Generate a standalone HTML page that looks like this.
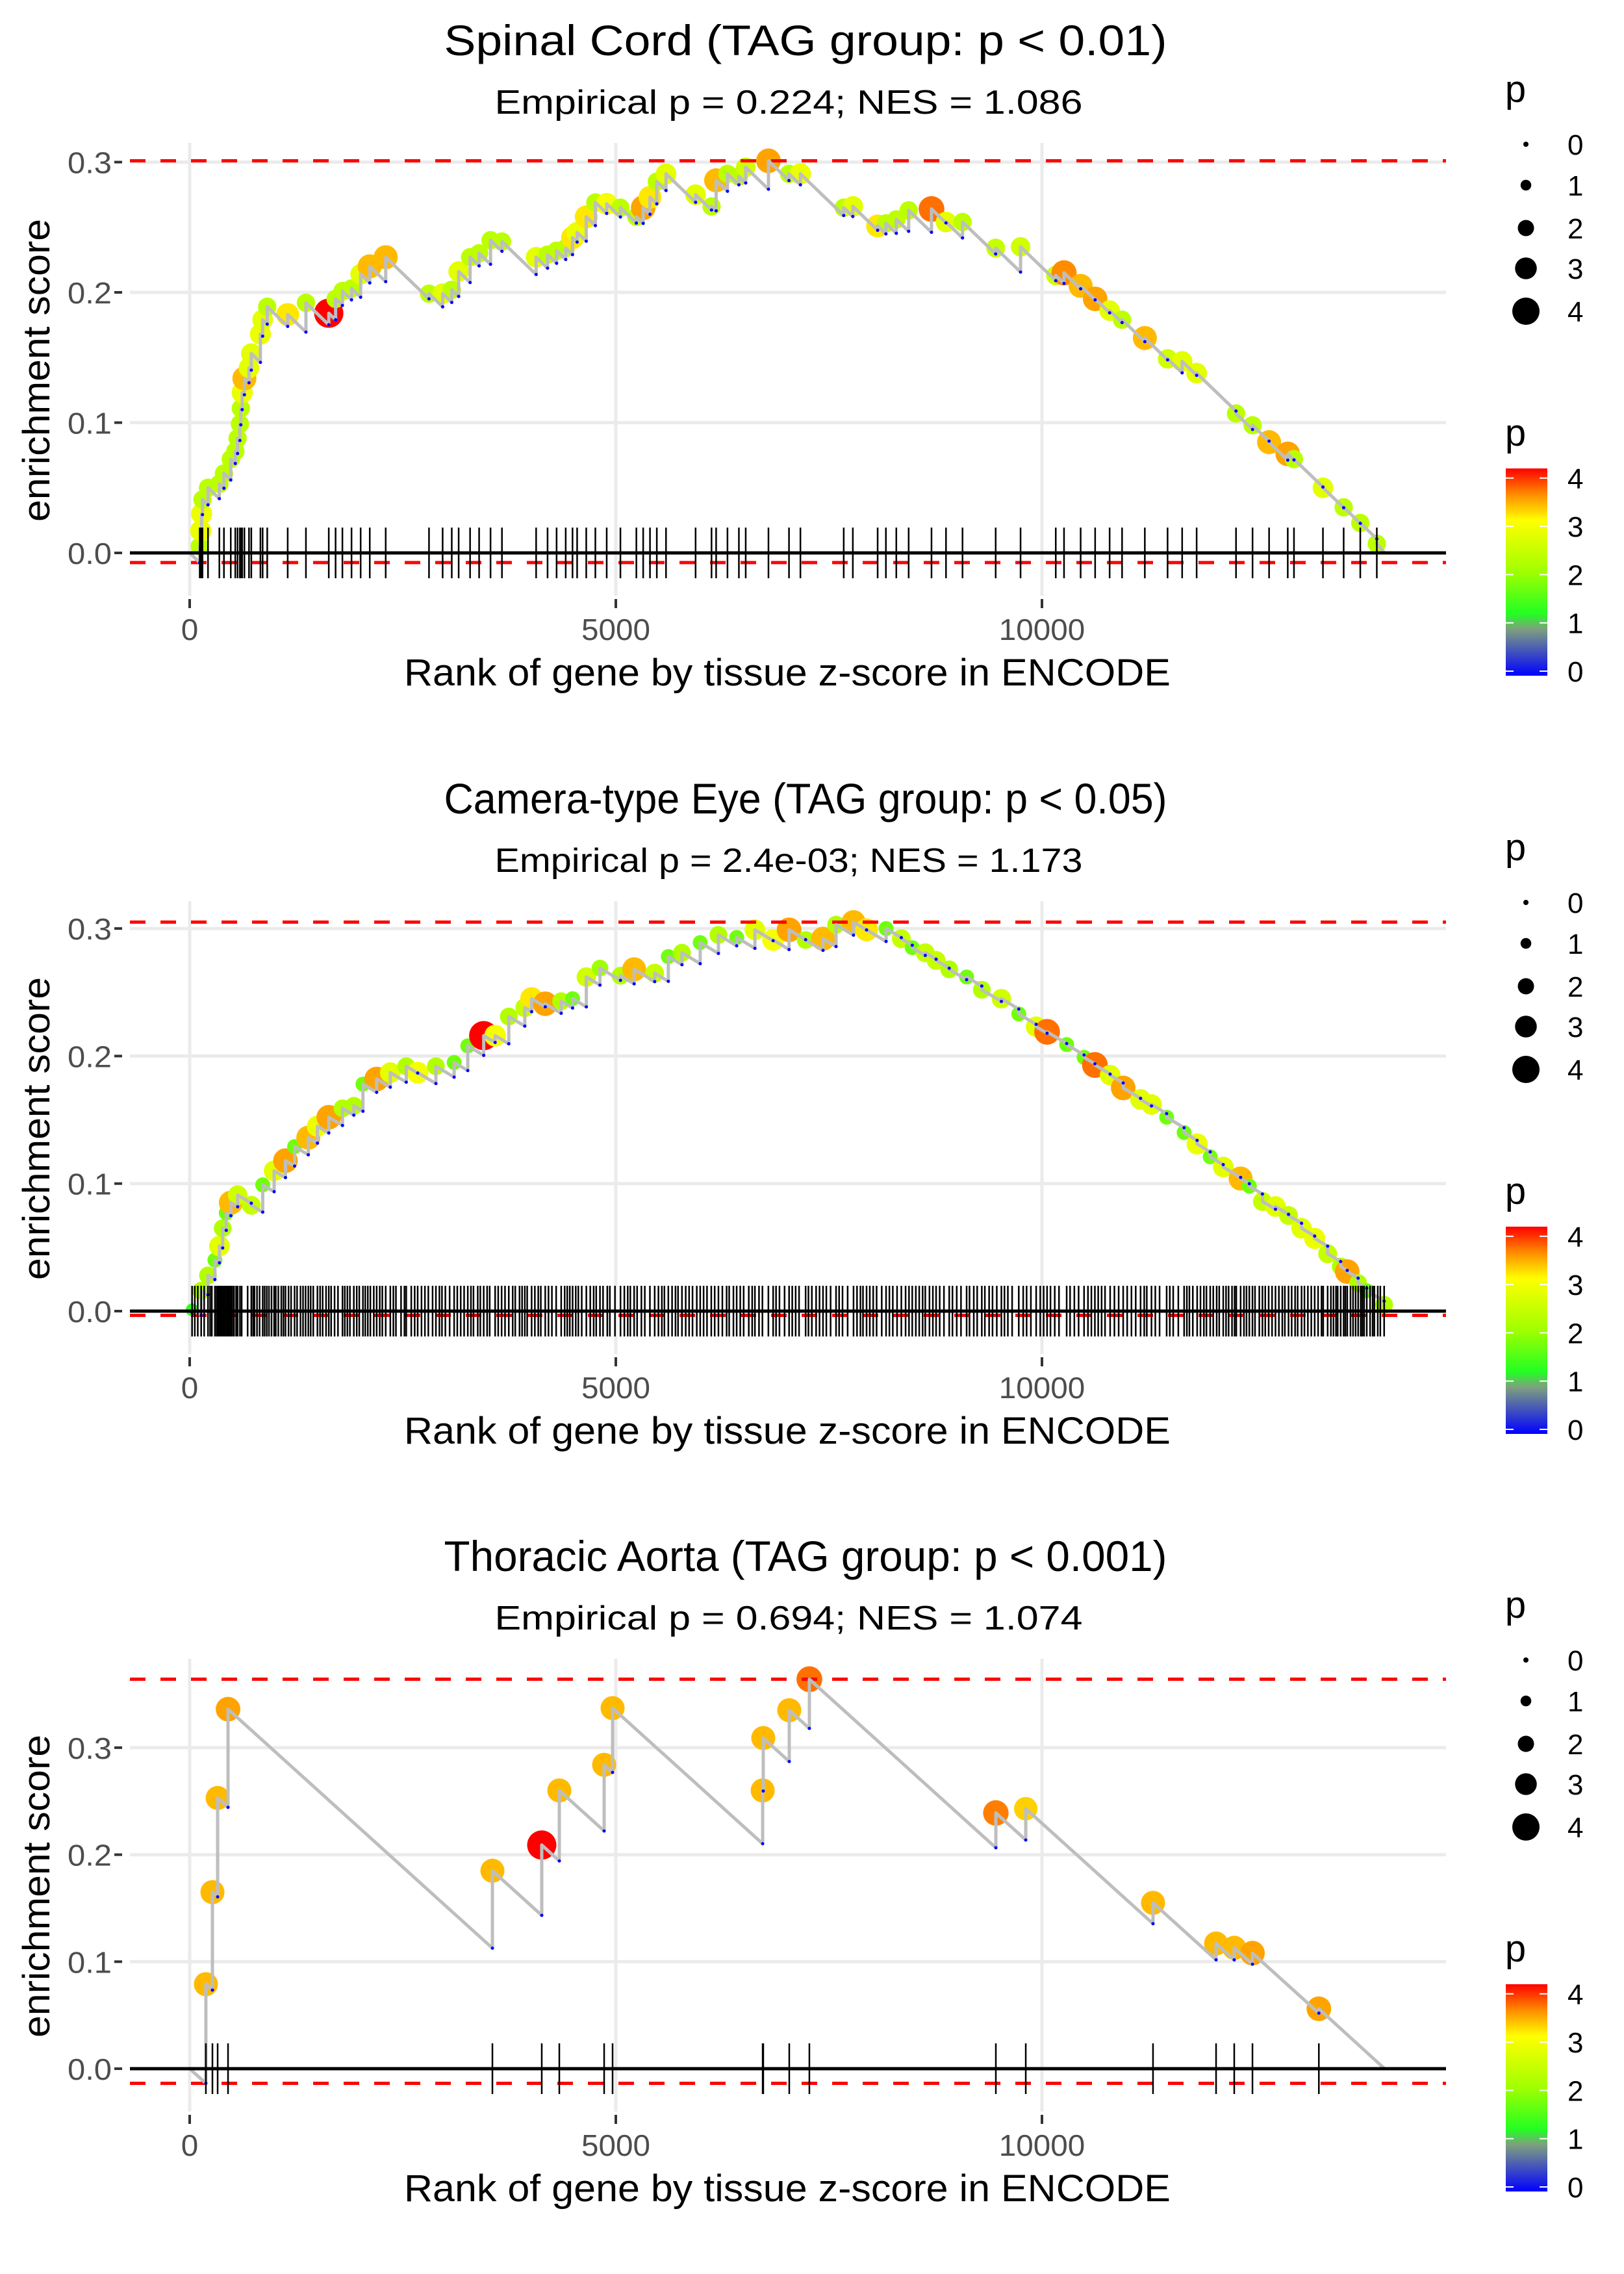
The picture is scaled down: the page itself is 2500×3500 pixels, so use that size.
<!DOCTYPE html>
<html><head><meta charset="utf-8"><style>
html,body{margin:0;padding:0;background:#fff;}
svg{display:block;font-family:"Liberation Sans",sans-serif;}
</style></head><body>
<svg id="fig" width="2500" height="3500" viewBox="0 0 2500 3500" xmlns="http://www.w3.org/2000/svg">
<defs>
<linearGradient id="pgrad" x1="0" y1="1" x2="0" y2="0">
<stop offset="0" stop-color="#0000ff"/><stop offset="0.225" stop-color="#7f9f7f"/><stop offset="0.3" stop-color="#22ff22"/><stop offset="0.5" stop-color="#a0ff00"/><stop offset="0.75" stop-color="#ffff00"/><stop offset="0.875" stop-color="#ff8c00"/><stop offset="1" stop-color="#ff0000"/>
</linearGradient>
</defs>
</svg>
<script>
// ---------- data ----------
const N = 14020;
// Panel 1 : Spinal Cord
const hitRank1 = [118,129,140,150,215,348,402,482,535,562,589,600,616,642,696,723,830,856,910,1150,1364,1632,1712,1792,1899,2006,2113,2300,2808,2968,3075,3156,3290,3396,3530,3664,4065,4199,4305,4412,4492,4546,4653,4760,4893,5054,5241,5321,5401,5481,5589,5936,6123,6177,6310,6444,6524,6791,7032,7166,7674,7781,8072,8169,8291,8436,8704,8874,9068,9457,9749,10162,10259,10454,10624,10794,10940,11207,11474,11645,11815,12277,12471,12665,12884,12957,13297,13540,13735,13929];
const hitES1 = [0.005,0.017,0.030,0.041,0.050,0.053,0.061,0.072,0.078,0.088,0.099,0.111,0.123,0.134,0.142,0.153,0.168,0.179,0.189,0.183,0.192,0.184,0.195,0.201,0.203,0.214,0.220,0.227,0.199,0.199,0.202,0.216,0.227,0.230,0.240,0.239,0.227,0.229,0.232,0.234,0.242,0.246,0.258,0.269,0.268,0.265,0.258,0.265,0.273,0.285,0.291,0.275,0.266,0.286,0.291,0.289,0.296,0.301,0.291,0.291,0.265,0.266,0.251,0.253,0.256,0.263,0.264,0.254,0.254,0.234,0.235,0.213,0.215,0.205,0.195,0.186,0.179,0.165,0.149,0.147,0.138,0.107,0.098,0.085,0.076,0.072,0.050,0.035,0.023,0.007];
const hitP1 = [2.3,2.8,2.8,2.3,2.3,2.3,2.3,2.3,2.3,2.3,2.3,2.3,2.8,3.3,2.7,2.7,2.8,2.7,2.3,3.1,2.3,4.2,2.3,2.3,2.3,2.7,3.3,3.3,2.3,2.7,2.3,2.7,2.3,2.3,2.3,2.3,2.7,2.3,2.3,2.3,3.1,2.8,3.1,2.3,2.9,2.3,2.3,3.4,3.1,2.3,2.7,2.7,2.3,3.3,2.3,2.3,2.5,3.4,2.3,2.8,2.3,2.7,3.1,2.3,2.3,2.3,3.6,2.7,2.3,2.4,2.5,2.5,3.5,3.3,3.4,2.7,2.3,3.3,2.5,2.7,2.7,2.3,2.3,3.3,3.4,2.3,2.7,2.3,2.3,2.3];
// Panel 2 : Camera-type Eye
const hitRank2 = [28,135,215,296,349,387,429,483,563,723,857,991,1124,1231,1392,1499,1632,1793,1926,2033,2194,2354,2541,2675,2889,3103,3263,3450,3584,3744,3932,4012,4172,4359,4493,4654,4814,5055,5215,5456,5616,5776,5990,6204,6418,6632,6846,7033,7227,7431,7584,7789,7942,8171,8350,8478,8631,8758,8912,9116,9294,9524,9728,9932,10060,10290,10494,10621,10800,10953,11157,11285,11463,11668,11821,11974,12127,12331,12433,12587,12740,12893,13046,13200,13352,13505,13582,13710,13811,14015];
const hitES2 = [0.001,0.016,0.028,0.040,0.051,0.065,0.077,0.085,0.091,0.083,0.099,0.110,0.118,0.129,0.136,0.145,0.152,0.159,0.161,0.178,0.182,0.187,0.192,0.187,0.192,0.195,0.208,0.216,0.216,0.231,0.238,0.245,0.241,0.243,0.245,0.262,0.269,0.263,0.268,0.265,0.278,0.281,0.289,0.295,0.293,0.299,0.291,0.299,0.291,0.292,0.303,0.305,0.299,0.300,0.292,0.285,0.281,0.275,0.268,0.262,0.252,0.245,0.233,0.223,0.219,0.209,0.199,0.193,0.185,0.175,0.166,0.162,0.152,0.140,0.131,0.121,0.113,0.104,0.098,0.086,0.082,0.075,0.065,0.057,0.045,0.035,0.031,0.022,0.016,0.005];
const hitP2 = [1.3,2.2,2.2,1.7,2.7,2.2,1.7,3.3,2.5,2.4,1.7,2.7,3.4,1.7,3.3,2.8,3.4,2.2,2.2,1.7,3.4,2.7,2.2,2.9,2.2,1.7,1.7,4.2,2.9,2.2,2.4,3.1,3.4,2.2,1.7,2.5,2,2.2,3.3,2.4,1.7,2.2,1.7,2.2,1.7,2.7,2.9,3.4,2.2,3.3,2.2,3.3,3.1,1.7,2.4,1.7,2.4,2.4,2.2,1.7,2.2,2.5,1.7,2.7,3.6,1.7,1.7,3.6,2.7,3.4,2.7,2.7,1.7,1.7,2.8,1.7,2.7,3.3,1.7,2.4,2.7,2.4,2.7,2.8,2.4,2.2,3.4,2.2,1.7,2.2];
const rugRank2 = [60,95,170,240,260,300,320,330,345,360,372,395,410,440,455,470,500,520,545,590,610,680,745,760,790,820,880,905,930,960,1010,1040,1075,1100,1160,1190,1260,1300,1330,1360,1420,1450,1530,1560,1600,1660,1700,1740,1820,1850,1880,1960,1990,2060,2090,2120,2160,2230,2260,2300,2390,2420,2480,2520,2600,2640,2720,2760,2800,2850,2930,2960,3000,3050,3140,3180,3220,3300,3330,3380,3410,3490,3520,3620,3660,3700,3790,3820,3870,3900,3960,4050,4090,4120,4210,4250,4300,4400,4430,4460,4530,4560,4600,4700,4740,4770,4850,4900,4930,4990,5100,5140,5170,5250,5300,5340,5400,5500,5540,5570,5660,5700,5730,5820,5860,5900,5950,6030,6070,6120,6160,6250,6300,6330,6380,6460,6500,6560,6600,6680,6720,6790,6880,6920,6980,7070,7110,7150,7260,7300,7350,7390,7470,7520,7620,7660,7720,7830,7870,7900,7980,8020,8060,8120,8210,8250,8300,8400,8440,8520,8560,8600,8680,8720,8800,8850,8950,9000,9050,9150,9200,9240,9330,9380,9420,9470,9560,9600,9650,9780,9820,9870,9980,10020,10100,10150,10200,10330,10380,10430,10540,10580,10660,10700,10740,10850,10900,11000,11050,11100,11200,11230,11330,11380,11500,11540,11600,11700,11730,11770,11860,11900,11930,12010,12050,12080,12160,12190,12230,12260,12280,12370,12400,12470,12500,12550,12620,12660,12700,12780,12820,12850,12930,12970,13000,13080,13120,13160,13240,13280,13300,13390,13420,13450,13470,13540,13560,13620,13650,13680,13740,13760,13780,13850,13880,13900,13940,13970];
// Panel 3 : Thoracic Aorta
const hitRank3 = [190,267,328,450,3552,4131,4337,4863,4962,6723,6730,7035,7271,9459,9810,11303,12043,12256,12470,13249];
const hitES3 = [0.079,0.165,0.253,0.336,0.185,0.209,0.260,0.284,0.337,0.260,0.309,0.335,0.364,0.239,0.243,0.155,0.117,0.113,0.108,0.056];
const hitP3 = [3.3,3.3,3.3,3.4,3.3,4.2,3.3,3.3,3.3,3.3,3.3,3.3,3.6,3.55,3.2,3.3,3.3,3.3,3.4,3.4];
const xTicks = [0,5000,10000];
const xTickLabels = ["0","5000","10000"];
const yTicks12 = [0,0.1,0.2,0.3];
const yTickLabels12 = ["0.0","0.1","0.2","0.3"];
const legendVals = [0,1,2,3,4];
const titles = ["Spinal Cord (TAG group: p < 0.01)","Camera-type Eye (TAG group: p < 0.05)","Thoracic Aorta (TAG group: p < 0.001)"];
const subtitles = ["Empirical p = 0.224; NES = 1.086","Empirical p = 2.4e-03; NES = 1.173","Empirical p = 0.694; NES = 1.074"];

// ---------- layout ----------
const NS = "http://www.w3.org/2000/svg";
const svg = document.getElementById('fig');
function mk(tag, attrs, parent){ const e=document.createElementNS(NS,tag); for(const k in attrs) e.setAttribute(k,attrs[k]); (parent||svg).appendChild(e); return e; }
const panels = [
  {off:0, zero:851, per:2005, slope:6.3e-5, ranks:hitRank1, es:hitES1, p:hitP1, rug:[], yt:yTicks12, ytl:yTickLabels12},
  {off:1167, zero:2018, per:1963, slope:4e-5, ranks:hitRank2, es:hitES2, p:hitP2, rug:rugRank2, yt:yTicks12, ytl:yTickLabels12},
  {off:2333, zero:3184, per:1647, slope:7.2e-5, ranks:hitRank3, es:hitES3, p:hitP3, rug:[], yt:yTicks12, ytl:yTickLabels12}
];
const X0 = 200, X1 = 2226;
function xs(r){ return 292 + r*0.1312; }
const cstops = [[0,[0,0,255]],[0.9,[127,159,127]],[1.2,[34,255,34]],[2,[160,255,0]],[3,[255,255,0]],[3.5,[255,140,0]],[4,[255,0,0]]];
function pcol(p){ p=Math.max(0,Math.min(4,p)); for(let i=1;i<cstops.length;i++){ if(p<=cstops[i][0]){ const a=cstops[i-1],b=cstops[i],t=(p-a[0])/(b[0]-a[0]); const c=a[1].map((v,j)=>Math.round(v+(b[1][j]-v)*t)); return `rgb(${c[0]},${c[1]},${c[2]})`; } } return 'rgb(255,0,0)'; }
function prad(p){ return 4 + 4.4*p; }

panels.forEach((P, pi) => {
  const g = mk('g', {});
  
  
  const ys = es => P.zero - es*P.per;
  const top = 220 + P.off, bot = 917 + P.off;
  const t = mk('text', {x:1240, y:85+P.off, 'font-size':66, 'text-anchor':'middle', fill:'#000', textLength:1113, lengthAdjust:'spacingAndGlyphs'}, g);
  t.textContent = titles[pi];
  
  
  const st = mk('text', {x:1214, y:175+P.off, 'font-size':52, 'text-anchor':'middle', fill:'#000', textLength:905, lengthAdjust:'spacingAndGlyphs'}, g);
  st.textContent = subtitles[pi];
  
  
  P.yt.forEach((v, i) => {
    const y = ys(v);
    const gl = mk('line', {x1:X0, x2:X1, y1:y, y2:y, stroke:'#ebebeb', 'stroke-width':5}, g);
    
    
    const tk = mk('line', {x1:176, x2:188, y1:y, y2:y, stroke:'#333', 'stroke-width':4}, g);
    
    
    const tl = mk('text', {x:172, y:y+17, 'font-size':46, 'text-anchor':'end', fill:'#4d4d4d', textLength:68, lengthAdjust:'spacingAndGlyphs'}, g);
    tl.textContent = P.ytl[i];
    
    
  });
  xTicks.forEach((v, i) => {
    const x = xs(v);
    const gl = mk('line', {x1:x, x2:x, y1:top, y2:bot, stroke:'#ebebeb', 'stroke-width':5}, g);
    
    
    const tk = mk('line', {x1:x, x2:x, y1:922+P.off, y2:936+P.off, stroke:'#333', 'stroke-width':4}, g);
    
    
    const tl = mk('text', {x:x, y:985+P.off, 'font-size':46, 'text-anchor':'middle', fill:'#4d4d4d', textLength:xTickLabels[i].length*26.5, lengthAdjust:'spacingAndGlyphs'}, g);
    tl.textContent = xTickLabels[i];
    
    
  });
  const xt = mk('text', {x:1212, y:1055+P.off, 'font-size':58, 'text-anchor':'middle', fill:'#000', textLength:1180, lengthAdjust:'spacingAndGlyphs'}, g);
  xt.textContent = 'Rank of gene by tissue z-score in ENCODE';
  
  
  const yt = mk('text', {x:0, y:0, 'font-size':58, 'text-anchor':'middle', fill:'#000', textLength:466, lengthAdjust:'spacingAndGlyphs', transform:`translate(76,${570+P.off}) rotate(-90)`}, g);
  yt.textContent = 'enrichment score';
  
  
  let prevR = 0, prevE = 0, d = `M${xs(0)},${ys(0)}`, minE = 0, maxE = 0;
  const bottoms = [];
  P.ranks.forEach((r, i) => {
    const b = prevE - P.slope*(r - prevR);
    bottoms.push(b);
    minE = Math.min(minE, b); maxE = Math.max(maxE, P.es[i]);
    d += ` L${xs(r)},${ys(b)} L${xs(r)},${ys(P.es[i])}`;
    prevR = r; prevE = P.es[i];
  });
  d += ` L${xs(N)},${ys(0)}`;
  P.ranks.forEach((r, i) => {
    const c = mk('circle', {cx:xs(r), cy:ys(P.es[i]), r:prad(P.p[i]), fill:pcol(P.p[i])}, g);
    
    
  });
  [maxE, minE].forEach((v, i) => {
    const l = mk('line', {x1:X0, x2:X1, y1:ys(v), y2:ys(v), stroke:'#ff0000', 'stroke-width':5, 'stroke-dasharray':'24,23'}, g);
    
    
  });
  const path = mk('path', {d:d, fill:'none', stroke:'#bebebe', 'stroke-width':5, 'stroke-linejoin':'round'}, g);
  
  
  P.ranks.forEach((r, i) => {
    const c = mk('circle', {cx:xs(r), cy:ys(bottoms[i]), r:2.5, fill:'#0000ff'}, g);
    
    
  });
  P.ranks.concat(P.rug).forEach(r => {
    const l = mk('line', {x1:xs(r), x2:xs(r), y1:P.zero-39, y2:P.zero+39, stroke:'#000', 'stroke-width':2.5}, g);
    
    
  });
  const z = mk('line', {x1:X0, x2:X1, y1:P.zero, y2:P.zero, stroke:'#000', 'stroke-width':5}, g);
  
  
  const lt = mk('text', {x:2333, y:157+P.off, 'font-size':58, 'text-anchor':'middle', fill:'#000'}, g);
  lt.textContent = 'p';
  
  
  const lys = [222,285,351,413,479];
  legendVals.forEach((v, i) => {
    const c = mk('circle', {cx:2349, cy:lys[i]+P.off, r:4+4.25*v, fill:'#000'}, g);
    
    
    const tx = mk('text', {x:2413, y:lys[i]+16+P.off, 'font-size':44, fill:'#000'}, g);
    tx.textContent = String(v);
    
    
  });
  const ct = mk('text', {x:2333, y:686+P.off, 'font-size':58, 'text-anchor':'middle', fill:'#000'}, g);
  ct.textContent = 'p';
  
  
  const bar = mk('rect', {x:2318, y:721+P.off, width:64, height:319, fill:'url(#pgrad)'}, g);
  
  
  legendVals.forEach(v => {
    const y = 1033 - v*74.3 + P.off;
    const a = mk('line', {x1:2318, x2:2330, y1:y, y2:y, stroke:'#fff', 'stroke-width':2}, g);
    
    
    const b = mk('line', {x1:2370, x2:2382, y1:y, y2:y, stroke:'#fff', 'stroke-width':2}, g);
    
    
    const tx = mk('text', {x:2413, y:y+16, 'font-size':44, fill:'#000'}, g);
    tx.textContent = String(v);
    
    
  });
});
</script>
</body></html>
